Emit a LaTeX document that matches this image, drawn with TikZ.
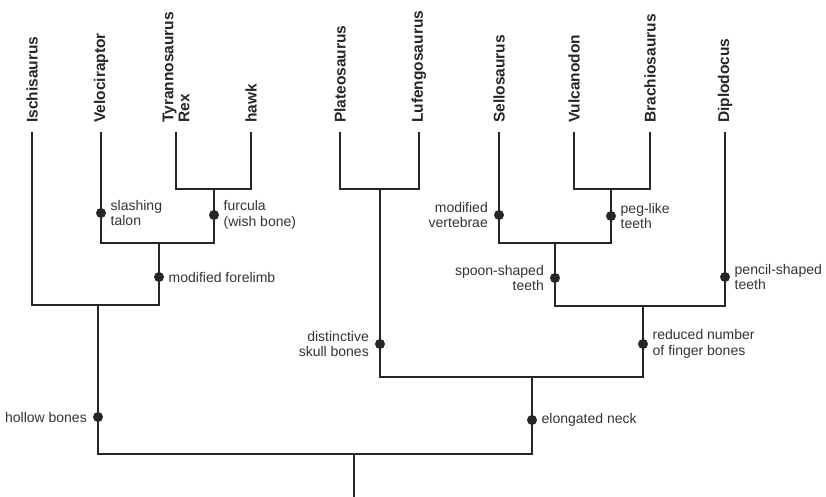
\documentclass[tikz,border=0pt]{standalone}
\usepackage{fontspec}
\setmainfont{Liberation Sans}
\definecolor{ink}{HTML}{262626}
\definecolor{txt}{HTML}{333333}
\begin{document}
\begin{tikzpicture}[x=1pt,y=-1pt,
  branch/.style={draw=ink,line width=2pt},
  taxon/.style={rotate=90,anchor=west,inner sep=0pt,text=ink,
    font=\fontsize{15.5}{16}\selectfont\bfseries,align=left},
  dotm/.style={circle,fill=ink,inner sep=0pt,minimum size=10pt},
  trR/.style={anchor=west,inner sep=0pt,xshift=9.5pt,text=txt,
    font=\fontsize{14}{15.5}\selectfont,align=left},
  trL/.style={anchor=east,inner sep=0pt,xshift=-11pt,text=txt,
    font=\fontsize{14}{15.5}\selectfont,align=right}]
\useasboundingbox (0,0) rectangle (826,497);
% tips
\coordinate (isch) at (32,132);
\coordinate (velo) at (101,132);
\coordinate (trex) at (176,132);
\coordinate (hawk) at (251,132);
\coordinate (plat) at (340,132);
\coordinate (lufe) at (419,132);
\coordinate (sell) at (499,132);
\coordinate (vulc) at (574,132);
\coordinate (brac) at (650,132);
\coordinate (dipl) at (725,132);
% taxon labels
\node[taxon] (lisch) at (32,123) {Ischisaurus};
\node[taxon] (lvelo) at (101,123) {Velociraptor};
\node[taxon] (ltrex) at (176,123) {Tyrannosaurus\\Rex};
\node[taxon] (lhawk) at (251,123) {hawk};
\node[taxon] (lplat) at (340,123) {Plateosaurus};
\node[taxon] (llufe) at (419,123) {Lufengosaurus};
\node[taxon] (lsell) at (499,123) {Sellosaurus};
\node[taxon] (lvulc) at (574,123) {Vulcanodon};
\node[taxon] (lbrac) at (650,123) {Brachiosaurus};
\node[taxon] (ldipl) at (725,123) {Diplodocus};
% junctions
\coordinate (jTH) at (214,189);
\coordinate (jVT) at (159,243);
\coordinate (jIV) at (98,305);
\coordinate (jPL) at (380,189);
\coordinate (jVB) at (611,189);
\coordinate (jSV) at (555,243);
\coordinate (jSD) at (643,306);
\coordinate (jPS) at (532,377);
\coordinate (root) at (354,454);
\coordinate (base) at (354,497);
% branches
\draw[branch] (trex) |- (jTH) -| (hawk);
\draw[branch] (velo) |- (jVT) -| (jTH);
\draw[branch] (isch) |- (jIV) -| (jVT);
\draw[branch] (plat) |- (jPL) -| (lufe);
\draw[branch] (vulc) |- (jVB) -| (brac);
\draw[branch] (sell) |- (jSV) -| (jVB);
\draw[branch] (jSV) |- (jSD) -| (dipl);
\draw[branch] (jPL) |- (jPS) -| (jSD);
\draw[branch] (jIV) |- (root) -| (jPS);
\draw[branch] (root) -- (base);
% trait markers
\node[dotm] (d1) at (101,213) {};
\node[trR] (t1) at (d1) {slashing\\talon};
\node[dotm] (d2) at (214,215) {};
\node[trR] (t2) at (d2) {furcula\\(wish bone)};
\node[dotm] (d3) at (159,277) {};
\node[trR] (t3) at (d3) {modified forelimb};
\node[dotm] (d4) at (98,417) {};
\node[trL] (t4) at (d4) {hollow bones};
\node[dotm] (d5) at (380,344) {};
\node[trL] (t5) at (d5) {distinctive\\skull bones};
\node[dotm] (d6) at (499,215) {};
\node[trL] (t6) at (d6) {modified\\vertebrae};
\node[dotm] (d7) at (611,216) {};
\node[trR] (t7) at (d7) {peg-like\\teeth};
\node[dotm] (d8) at (555,278) {};
\node[trL] (t8) at (d8) {spoon-shaped\\teeth};
\node[dotm] (d9) at (725,277) {};
\node[trR] (t9) at (d9) {pencil-shaped\\teeth};
\node[dotm] (d10) at (643,344) {};
\node[trR] (t10) at (d10) {reduced number\\of finger bones};
\node[dotm] (d11) at (532,420) {};
\node[trR] (t11) at (d11) {elongated neck};
\end{tikzpicture}
\end{document}
